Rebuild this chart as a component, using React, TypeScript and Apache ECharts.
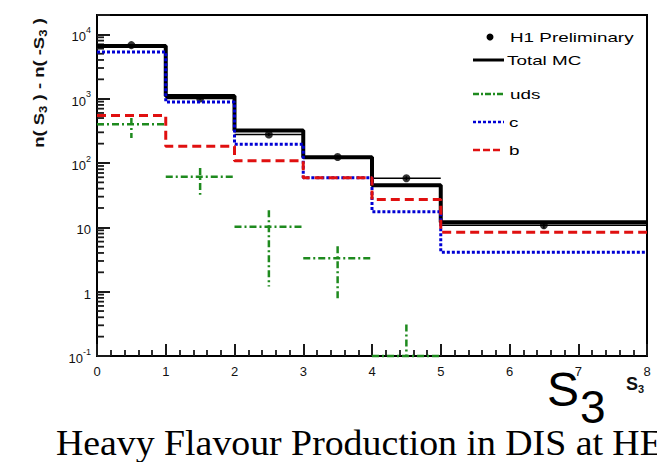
import React, { useEffect, useRef } from 'react';
import * as echarts from 'echarts';

// S3 binning and histogram contents
const binEdges = [0, 1, 2, 3, 4, 5, 8];
const binCentres = [0.5, 1.5, 2.5, 3.5, 4.5, 6.5];
const totalMC = [6600, 1100, 320, 123, 45, 12];
const charmMC = [5300, 885, 195, 59, 17.5, 4.1];
const beautyMC = [550, 183, 108, 59, 27, 8.4];
const udsMC = [400, 61, 10.2, 3.3, 0.1];
const udsLow = [245, 32, 1.2, 0.75, 0.1];
const udsHigh = [500, 84, 18.5, 5.1, 0.31];
const h1Data = [6800, 1010, 278, 124, 58, 10.8];
const h1Err = [160, 45, 14, 7, 4, 1.2];

// axis ranges and tick decades
const xRange = [0, 8];
const yRange = [0.1, 20000];
const yDecades = [-1, 0, 1, 2, 3, 4];

const GREEN = '#1e8a1e';
const BLUE = '#0000d4';
const RED = '#e01010';
const INK = '#1a1a1a';

const stepPoints = (vals: number[]) =>
  vals.map((v, i) => [binEdges[i], v]).concat([[binEdges[vals.length], vals[vals.length - 1]]]);

const yMinorTicks: number[][] = [];
yDecades.forEach((k) => {
  for (let m = 2; m <= 9; m++) {
    const v = m * Math.pow(10, k);
    if (v < yRange[1]) yMinorTicks.push([xRange[0], v]);
  }
});

const crossItem = (stroke: string, width: number, dash: number[] | null) => (params: any, api: any) => {
  const c = api.value(0);
  const v = api.value(1);
  const lo = api.value(2);
  const hi = api.value(3);
  const x0 = api.value(4);
  const x1 = api.value(5);
  const pL = api.coord([x0, v]);
  const pR = api.coord([x1, v]);
  const pT = api.coord([c, hi]);
  const pB = api.coord([c, lo]);
  const style: any = { stroke, lineWidth: width, fill: null };
  if (dash) style.lineDash = dash;
  return {
    type: 'group',
    children: [
      { type: 'line', shape: { x1: pL[0], y1: pL[1], x2: pR[0], y2: pR[1] }, style },
      { type: 'line', shape: { x1: pT[0], y1: pT[1], x2: pB[0], y2: pB[1] }, style },
    ],
  };
};

const legendFont = '13px "Liberation Sans", Arial, sans-serif';

export default function App() {
  const ref = useRef<HTMLDivElement>(null);

  useEffect(() => {
    if (!ref.current) return;
    const chart = echarts.init(ref.current, null, { renderer: 'svg' });

    const udsRows = udsMC.map((v, i) => [binCentres[i], v, udsLow[i], udsHigh[i], binEdges[i], binEdges[i + 1]]);
    const dataRows = h1Data.map((v, i) => [binCentres[i], v, v - h1Err[i], v + h1Err[i], binEdges[i], binEdges[i + 1]]);

    const legendText = (text: string, x: number, y: number) => ({
      type: 'text',
      x,
      y,
      scaleX: 1.45,
      style: { text, font: legendFont, fill: '#000', align: 'left', verticalAlign: 'middle' },
    });
    const legendLine = (y: number, stroke: string, width: number, dash: number[] | null, x1 = 473, x2 = 504) => ({
      type: 'line',
      shape: { x1, y1: y, x2, y2: y },
      style: dash ? { stroke, lineWidth: width, lineDash: dash } : { stroke, lineWidth: width },
    });

    chart.setOption({
      animation: false,
      grid: { left: 97, top: 15, width: 550, height: 341, show: true, borderColor: '#000', borderWidth: 2 },
      xAxis: {
        type: 'value',
        min: xRange[0],
        max: xRange[1],
        interval: 1,
        axisLine: { show: true, lineStyle: { color: '#000', width: 2 } },
        axisTick: { show: true, inside: true, length: 12, lineStyle: { color: INK, width: 2 } },
        minorTick: { show: true, splitNumber: 5, length: 6, lineStyle: { color: INK, width: 1.8 } },
        splitLine: { show: false },
        axisLabel: { margin: 9, fontSize: 13, color: '#111', fontFamily: '"Liberation Sans", Arial, sans-serif' },
      },
      yAxis: {
        type: 'log',
        logBase: 10,
        min: yRange[0],
        max: yRange[1],
        axisLine: { show: true, lineStyle: { color: '#000', width: 2 } },
        axisTick: { show: true, inside: true, length: 13, lineStyle: { color: INK, width: 2 } },
        splitLine: { show: false },
        axisLabel: {
          margin: 6,
          color: '#111',
          fontFamily: '"Liberation Sans", Arial, sans-serif',
          formatter: (v: number) => {
            const e = Math.round(Math.log10(v) * 1000) / 1000;
            if (!Number.isInteger(e) || yDecades.indexOf(e) < 0) return '';
            if (e === 0) return '{b|1}';
            if (e === 1) return '{b|10}';
            return '{b|10}{s|' + e + '}';
          },
          rich: {
            b: { fontSize: 13, lineHeight: 18, verticalAlign: 'bottom', color: '#111' },
            s: { fontSize: 9, lineHeight: 10, verticalAlign: 'top', color: '#111' },
          },
        },
      },
      series: [
        {
          name: 'y minor ticks',
          type: 'custom',
          data: yMinorTicks,
          encode: { x: 0, y: 1 },
          clip: false,
          renderItem: (params: any, api: any) => {
            const p = api.coord([api.value(0), api.value(1)]);
            return {
              type: 'line',
              shape: { x1: p[0], y1: p[1], x2: p[0] + 7, y2: p[1] },
              style: { stroke: INK, lineWidth: 1.8 },
            };
          },
        },
        {
          name: 'Total MC',
          type: 'line',
          step: 'end',
          data: stepPoints(totalMC),
          symbol: 'none',
          lineStyle: { color: '#000', width: 4, cap: 'butt' },
        },
        {
          name: 'c',
          type: 'line',
          step: 'end',
          data: stepPoints(charmMC),
          symbol: 'none',
          lineStyle: { color: BLUE, width: 3, type: [3, 2], cap: 'butt' },
        },
        {
          name: 'b',
          type: 'line',
          step: 'end',
          data: stepPoints(beautyMC),
          symbol: 'none',
          lineStyle: { color: RED, width: 3, type: [9, 5], cap: 'butt' },
        },
        {
          name: 'uds',
          type: 'custom',
          data: udsRows,
          encode: { x: 0, y: 1 },
          renderItem: crossItem(GREEN, 2.5, [7, 3, 2, 3]),
        },
        {
          name: 'H1 Preliminary errors',
          type: 'custom',
          data: dataRows,
          encode: { x: 0, y: 1 },
          renderItem: crossItem('#000', 1.5, null),
        },
        {
          name: 'H1 Preliminary',
          type: 'scatter',
          data: binCentres.map((c, i) => [c, h1Data[i]]),
          symbol: 'circle',
          symbolSize: 8,
          itemStyle: { color: '#000' },
        },
      ],
      graphic: [
        // legend
        { type: 'circle', shape: { cx: 490, cy: 37, r: 3.5 }, style: { fill: '#000' } },
        legendText('H1 Preliminary', 510, 37),
        legendLine(60, '#000', 3, null),
        legendText('Total MC', 507, 60),
        legendLine(94, GREEN, 2.5, [6, 2, 2, 2], 473, 505),
        legendText('uds', 510, 94),
        legendLine(122, BLUE, 2.5, [3, 2]),
        legendText('c', 509, 122),
        legendLine(150, RED, 2.5, [7, 3], 473, 503),
        legendText('b', 509, 150),
        // y axis title
        {
          type: 'text',
          x: 39,
          y: 83,
          rotation: Math.PI / 2,
          scaleX: 1.32,
          style: {
            text: '{t|n( S}{u|3}{t| ) - n( -S}{u|3}{t| )}',
            align: 'center',
            verticalAlign: 'middle',
            rich: {
              t: { fontSize: 14, fontWeight: 'bold', fontFamily: '"Liberation Sans", Arial', lineHeight: 18, verticalAlign: 'middle', fill: '#111' },
              u: { fontSize: 10, fontWeight: 'bold', fontFamily: '"Liberation Sans", Arial', lineHeight: 10, verticalAlign: 'bottom', fill: '#111' },
            },
          },
        },
        // x axis title
        {
          type: 'text',
          x: 626,
          y: 384,
          style: {
            text: '{S|S}{d|3}',
            align: 'left',
            verticalAlign: 'middle',
            rich: {
              S: { fontSize: 18, fontWeight: 'bold', fontFamily: '"Liberation Sans", Arial', lineHeight: 20, verticalAlign: 'middle', fill: '#111' },
              d: { fontSize: 11, fontWeight: 'bold', fontFamily: '"Liberation Sans", Arial', lineHeight: 11, verticalAlign: 'bottom', fill: '#111' },
            },
          },
        },
        // large S3 caption
        {
          type: 'text',
          x: 547,
          y: 389.5,
          style: { text: 'S', font: '48px "Liberation Sans", Arial', fill: '#000', align: 'left', verticalAlign: 'middle' },
        },
        {
          type: 'text',
          x: 580,
          y: 406.5,
          style: { text: '3', font: '46px "Liberation Sans", Arial', fill: '#000', align: 'left', verticalAlign: 'middle' },
        },
        // page caption
        {
          type: 'text',
          x: 56,
          y: 443,
          scaleX: 1.05,
          style: {
            text: 'Heavy Flavour Production in DIS at HERA',
            font: '36px "Liberation Serif", "Times New Roman", serif',
            fill: '#000',
            align: 'left',
            verticalAlign: 'middle',
          },
        },
      ],
    });

    return () => chart.dispose();
  }, []);

  return (
    <div
      ref={ref}
      style={{ position: 'fixed', left: 0, top: 0, width: 657, height: 462, background: '#fff' }}
    />
  );
}
